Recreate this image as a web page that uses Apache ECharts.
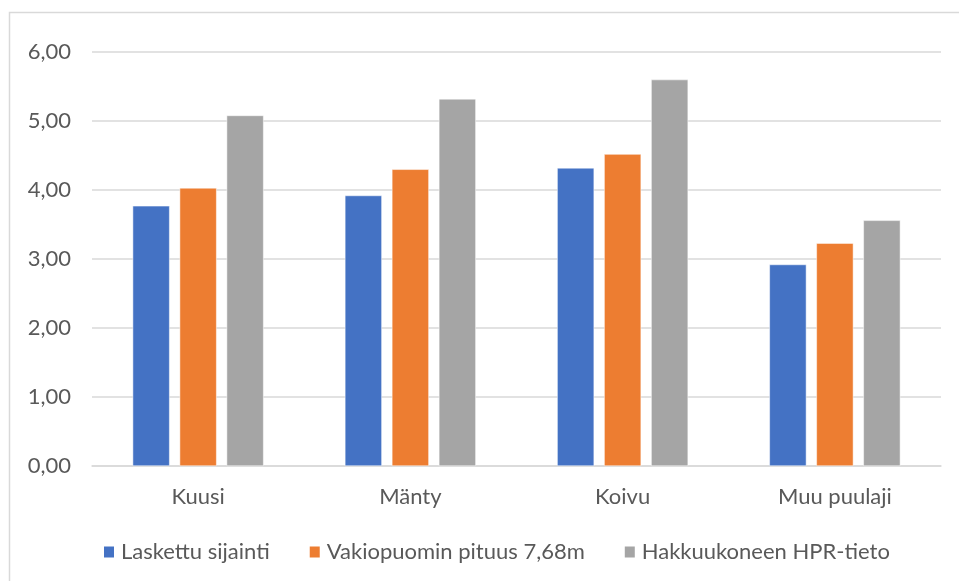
<!DOCTYPE html>
<html>
<head>
<meta charset="utf-8">
<script src="https://cdn.jsdelivr.net/npm/echarts@6/dist/echarts.min.js"></script>
<style>
  html, body { margin: 0; padding: 0; background: #fff; }
  #chart { width: 959px; height: 581px; }
</style>
</head>
<body>
<div id="chart"></div>
<script>
// Tree species on the category axis
const categories = ['Kuusi', 'Mänty', 'Koivu', 'Muu puulaji'];

// Series values per species
const laskettuSijainti = [3.77, 3.92, 4.32, 2.92];
const vakiopuominPituus = [4.03, 4.30, 4.52, 3.23];
const hprTieto = [5.08, 5.32, 5.60, 3.56];

const seriesNames = ['Laskettu sijainti', 'Vakiopuomin pituus 7,68m', 'Hakkuukoneen HPR-tieto'];
const seriesColors = ['#4472c4', '#ed7d31', '#a5a5a5'];

// Value axis ticks
const yTicks = [0, 1, 2, 3, 4, 5, 6];

const FONT = 'Lato, "Open Sans", sans-serif';
const TEXT = '#595959';
const FS = 22;

const chart = echarts.init(document.getElementById('chart'), null, { renderer: 'canvas' });

const valueSets = [laskettuSijainti, vakiopuominPituus, hprTieto];

chart.setOption({
  animation: false,
  backgroundColor: '#ffffff',
  textStyle: { fontFamily: FONT },
  graphic: [{
    type: 'rect',
    shape: { x: 9.5, y: 12.5, width: 1000, height: 1000 },
    style: { fill: 'none', stroke: '#d9d9d9', lineWidth: 1.5 },
    silent: true
  }],
  grid: { left: 92, right: 18, top: 52, bottom: 115 },
  legend: {
    left: 97,
    top: 536,
    itemWidth: 12,
    itemHeight: 13,
    itemGap: 38,
    icon: 'rect',
    textStyle: { color: TEXT, fontSize: FS, fontFamily: FONT, padding: [0, 0, 0, 1] },
    data: seriesNames
  },
  xAxis: {
    type: 'category',
    data: categories,
    axisLine: { lineStyle: { color: '#d9d9d9', width: 1.5 } },
    axisTick: { show: false },
    axisLabel: { color: TEXT, fontSize: FS, margin: 20, fontFamily: FONT }
  },
  yAxis: {
    type: 'value',
    min: yTicks[0],
    max: yTicks[yTicks.length - 1],
    interval: 1,
    axisLine: { show: false },
    axisTick: { show: false },
    splitLine: { lineStyle: { color: '#d9d9d9', width: 1.5 } },
    axisLabel: {
      color: TEXT,
      fontSize: FS,
      margin: 21,
      fontFamily: FONT,
      formatter: v => v.toFixed(2).replace('.', ',')
    }
  },
  series: seriesNames.map((name, i) => ({
    name,
    type: 'bar',
    data: valueSets[i],
    barWidth: 37,
    barGap: '27%',
    itemStyle: { color: seriesColors[i], borderColor: '#ffffff', borderWidth: 0.5 }
  }))
});
</script>
</body>
</html>
